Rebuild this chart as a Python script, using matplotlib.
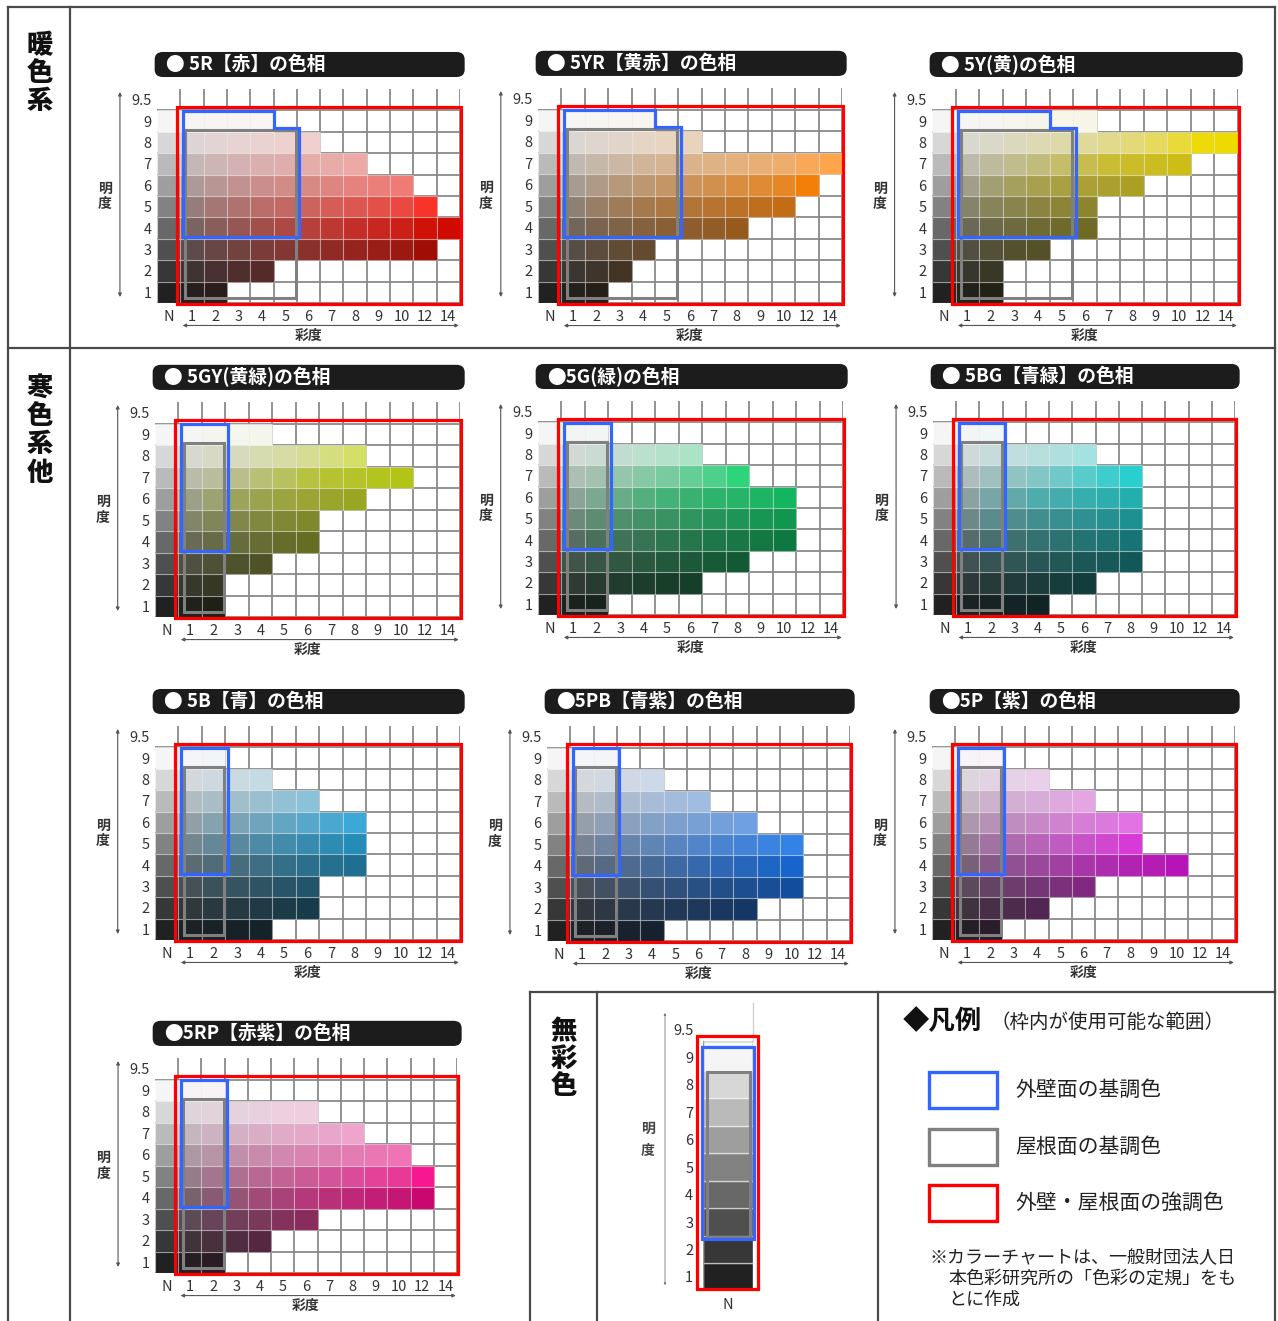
import colorsys
import numpy as np
import matplotlib
matplotlib.use('Agg')
import matplotlib.pyplot as plt
from matplotlib.patches import Rectangle, Polygon, FancyBboxPatch

plt.rcParams['font.family'] = ['Noto Sans CJK JP', 'DejaVu Sans']
NUM_FONT = ['Liberation Sans Narrow', 'Noto Sans CJK JP', 'DejaVu Sans']

# 彩度の列 (N, 1..10, 12, 14) と明度の行 (1..9, 9.5)
chroma_labels = ['N', '1', '2', '3', '4', '5', '6', '7', '8', '9', '10', '12', '14']
chroma_values = [0, 1, 2, 3, 4, 5, 6, 7, 8, 9, 10, 12, 14]
value_labels = ['1', '2', '3', '4', '5', '6', '7', '8', '9', '9.5']
values = [1, 2, 3, 4, 5, 6, 7, 8, 9]

hue_titles = ['● 5R【赤】の色相', '● 5YR【黄赤】の色相', '● 5Y(黄)の色相',
              '● 5GY(黄緑)の色相', '●5G(緑)の色相', '● 5BG【青緑】の色相',
              '● 5B【青】の色相', '●5PB【青紫】の色相', '●5P【紫】の色相',
              '●5RP【赤紫】の色相']

# 明度1..9 ごとに色票がある最大の列 (1=彩度1 ... 10=彩度10, 11=彩度12, 12=彩度14)
max_col_5R = [2, 4, 11, 12, 11, 10, 8, 6, 4]
max_col_5YR = [2, 3, 4, 8, 10, 11, 12, 6, 4]
max_col_5Y = [2, 2, 4, 6, 6, 8, 10, 12, 6]
max_col_5GY = [2, 2, 4, 6, 6, 8, 10, 8, 4]
max_col_5G = [2, 6, 8, 10, 10, 10, 8, 6, 2]
max_col_5BG = [4, 6, 8, 8, 8, 8, 8, 6, 2]
max_col_5B = [4, 6, 6, 8, 8, 8, 6, 4, 2]
max_col_5PB = [4, 8, 10, 10, 10, 8, 6, 4, 2]
max_col_5P = [2, 4, 6, 10, 8, 8, 6, 4, 2]
max_col_5RP = [2, 4, 6, 11, 11, 10, 8, 6, 2]
max_cols = [max_col_5R, max_col_5YR, max_col_5Y, max_col_5GY, max_col_5G,
            max_col_5BG, max_col_5B, max_col_5PB, max_col_5P, max_col_5RP]

# 使用可能な範囲 (外壁: 明度4以上, 屋根: 明度8以下)
wall_col_v9 = [4, 4, 4, 2, 2, 2, 2, 2, 2, 2]
wall_col = [5, 5, 5, 2, 2, 2, 2, 2, 2, 2]
roof_col = [5, 5, 5, 2, 2, 2, 2, 2, 2, 2]

# 色相の角度 (表示用)
hue_deg = [3, 30, 55, 66, 148, 180, 198, 214, 300, 328]

# 無彩色
gray_wall_rows = [3, 9]
gray_roof_rows = [3, 8]

legend_items = ['外壁面の基調色', '屋根面の基調色', '外壁・屋根面の強調色']
legend_colors = ['#3366ff', '#808080', '#ff0000']
BLUE, GRAY, RED = legend_colors

W, H = 1278, 1321
# (左, 9.5行の上, 右, 明度1の下) [px]
layout = [(157, 89, 460, 303), (538, 88, 842, 303), (932, 89, 1238, 303),
          (155, 402, 460, 617), (538, 401, 843, 615), (933, 401, 1235, 615),
          (155, 726, 460, 940), (547, 726, 850, 941), (932, 726, 1235, 940),
          (155, 1058, 457, 1273)]


def lin(c):
    return c / 12.92 if c <= 0.04045 else ((c + 0.055) / 1.055) ** 2.4


def cell_color(hdeg, v, c):
    L = 10.5 * v + 2
    Y = ((L + 16) / 116) ** 3
    s = min(1.0, (c / 13.0) ** 0.85)
    lo, hi = 0.0, 1.0
    for _ in range(30):
        mid = (lo + hi) / 2
        r, g, b = colorsys.hls_to_rgb(hdeg / 360, mid, s)
        if 0.2126 * lin(r) + 0.7152 * lin(g) + 0.0722 * lin(b) < Y:
            lo = mid
        else:
            hi = mid
    return colorsys.hls_to_rgb(hdeg / 360, (lo + hi) / 2, s)


fig = plt.figure(figsize=(W / 100, H / 100), dpi=100)
bg = fig.add_axes([0, 0, 1, 1])
bg.set_xlim(0, W)
bg.set_ylim(H, 0)
bg.axis('off')

# 枠線
frame = dict(color='#4a4a4a', lw=1.6)
bg.plot([8, 8], [7, H], **frame)
bg.plot([8, 1275], [7, 7], **frame)
bg.plot([1275, 1275], [7, H], **frame)
bg.plot([70, 70], [7, H], **frame)
bg.plot([8, 1275], [348, 348], **frame)
bg.plot([530, 1275], [992, 992], **frame)
for xx in [530, 597, 878]:
    bg.plot([xx, xx], [992, H], **frame)

for label, x, y0, step in [('暖色系', 40, 45, 28), ('寒色系他', 40, 387, 28.5),
                           ('無彩色', 564, 1031, 27.5)]:
    for i, ch in enumerate(label):
        bg.text(x, y0 + i * step, ch, fontsize=19, fontweight='heavy',
                ha='center', va='center', color='#111')


def style_axes(ax, xlabels, xpos):
    ax.set_facecolor('none')
    for sp in ax.spines.values():
        sp.set_visible(False)
    ax.set_xticks(xpos, xlabels)
    ax.set_yticks(range(1, 11), value_labels)
    ax.tick_params(length=0, labelsize=10.5, colors='#333')
    ax.tick_params(axis='y', pad=4)
    ax.tick_params(axis='x', pad=5)
    for lab in ax.get_xticklabels() + ax.get_yticklabels():
        lab.set_fontfamily(NUM_FONT)


for k, (x0, yt, x1, yb) in enumerate(layout):
    ax = fig.add_axes([x0 / W, 1 - yb / H, (x1 - x0) / W, (yb - yt) / H])
    ax.set_xlim(-0.5, 12.5)
    ax.set_ylim(0.5, 10.5)
    style_axes(ax, chroma_labels, range(13))

    for xb in np.arange(0.5, 13):
        ax.plot([xb, xb], [0.5, 10.5], color='#8a8a8a', lw=1.3, zorder=1)
    for yb_ in np.arange(0.5, 10):
        ax.plot([-0.5, 12.5], [yb_, yb_], color='#8a8a8a', lw=1.3, zorder=1)

    for vi, v in enumerate(values):
        for col in range(max_cols[k][vi] + 1):
            fc = cell_color(hue_deg[k], v, chroma_values[col])
            ax.add_patch(Rectangle((col - 0.5, v - 0.5), 1, 1, fc=fc,
                                   ec=(1, 1, 1, 0.35), lw=0.8, zorder=2))

    # 強調色 (赤), 屋根 (灰), 外壁 (青)
    ax.add_patch(Rectangle((0.35, 0.47), 12.21, 9.18, fill=False, ec=RED,
                           lw=2.3, zorder=4, clip_on=False))
    rr = roof_col[k] + 0.45
    ax.add_patch(Rectangle((0.72, 0.73), rr - 0.72, 8.58 - 0.73, fill=False,
                           ec=GRAY, lw=2.2, zorder=5, clip_on=False))
    rt = wall_col_v9[k] + 0.5 + (0.1 if wall_col_v9[k] == wall_col[k] else 0)
    rw = wall_col[k] + 0.6
    blue = [(0.6, 9.48), (rt, 9.48), (rt, 8.7), (rw, 8.7), (rw, 3.57), (0.6, 3.57)]
    ax.add_patch(Polygon(blue, closed=True, fill=False, ec=BLUE, lw=2.3,
                         zorder=6, clip_on=False))

    # 見出し
    ax.add_patch(FancyBboxPatch((-0.6, 11.06), 13.3, 1.17,
                                boxstyle='round,pad=0,rounding_size=0.35',
                                fc='#1c1c1c', ec='none', clip_on=False))
    ax.text(-0.1, 11.64, hue_titles[k], color='white', fontsize=13.5,
            fontweight='bold', ha='left', va='center', clip_on=False)

    arrow = dict(arrowstyle='<|-|>', color='#555', lw=0.8, mutation_scale=5,
                 shrinkA=0, shrinkB=0)
    ax.annotate('', xy=(-2.09, 10.36), xytext=(-2.09, 0.78), arrowprops=arrow,
                annotation_clip=False)
    ax.annotate('', xy=(12.45, -0.55), xytext=(0.6, -0.55), arrowprops=arrow,
                annotation_clip=False)
    ax.text(-2.73, 5.85, '明', fontsize=10, fontweight='bold', ha='center',
            va='center', color='#333')
    ax.text(-2.73, 5.12, '度', fontsize=10, fontweight='bold', ha='center',
            va='center', color='#333')
    ax.text(6, -1.05, '彩度', fontsize=10, fontweight='bold', ha='center',
            va='center', color='#333')

# 無彩色
ax = fig.add_axes([703 / W, 1 - 1290.7 / H, 50 / W, 274.7 / H])
ax.set_xlim(-0.5, 0.5)
ax.set_ylim(0.5, 10.5)
style_axes(ax, ['N'], [0])
ax.tick_params(axis='y', pad=7)
for v in values:
    ax.add_patch(Rectangle((-0.5, v - 0.5), 1, 1, fc=cell_color(0, v, 0),
                           ec=(1, 1, 1, 0.5), lw=1.0, zorder=2))
ax.add_patch(Rectangle((-0.5, 9.5), 1, 0.1, fc='#dcdcdc', ec='none', zorder=2))
for xb in [-0.5, 0.5]:
    ax.plot([xb, xb], [0.5, 9.6], color='#9a9a9a', lw=1.0, zorder=3)
ax.plot([0.5, 0.5], [9.6, 10.97], color='#d0d0d0', lw=1.0, clip_on=False)
ax.add_patch(Rectangle((-0.62, 0.56), 1.22, 9.21, fill=False, ec=RED, lw=2.3,
                       zorder=4, clip_on=False))
ax.add_patch(Rectangle((-0.42, gray_roof_rows[0] - 0.54), 0.86,
                       gray_roof_rows[1] - gray_roof_rows[0] + 1.0, fill=False,
                       ec=GRAY, lw=2.2, zorder=5, clip_on=False))
ax.add_patch(Rectangle((-0.52, gray_wall_rows[0] - 0.6), 1.04,
                       gray_wall_rows[1] - gray_wall_rows[0] + 0.97, fill=False,
                       ec=BLUE, lw=2.3, zorder=6, clip_on=False))
ax.annotate('', xy=(-1.26, 10.61), xytext=(-1.26, 0.7),
            arrowprops=dict(arrowstyle='<|-|>', color='#777', lw=0.6,
                            mutation_scale=3, shrinkA=0, shrinkB=0),
            annotation_clip=False)
ax.text(-1.6, 6.4, '明', fontsize=10, fontweight='bold', ha='center',
        va='center', color='#444')
ax.text(-1.6, 5.6, '度', fontsize=10, fontweight='bold', ha='center',
        va='center', color='#444')

# 凡例
bg.text(903, 1022, '◆凡例', fontsize=19, fontweight='bold', ha='left',
        va='center', color='#111')
bg.text(990, 1023, '（枠内が使用可能な範囲）', fontsize=14, ha='left',
        va='center', color='#222')
for i, (name, colr) in enumerate(zip(legend_items, legend_colors)):
    yc = 1090 + i * 56.5
    bg.add_patch(Rectangle((929, yc - 18), 68, 36, fill=False, ec=colr, lw=2.4))
    bg.text(1015, yc, name, fontsize=15, ha='left', va='center', color='#222')
note = ['※カラーチャートは、一般財団法人日', '本色彩研究所の「色彩の定規」をも', 'とに作成']
for i, line in enumerate(note):
    bg.text(930 if i == 0 else 948, 1257 + i * 21.5, line, fontsize=13,
            ha='left', va='center', color='#222')

fig.savefig('out.png', dpi=100)
